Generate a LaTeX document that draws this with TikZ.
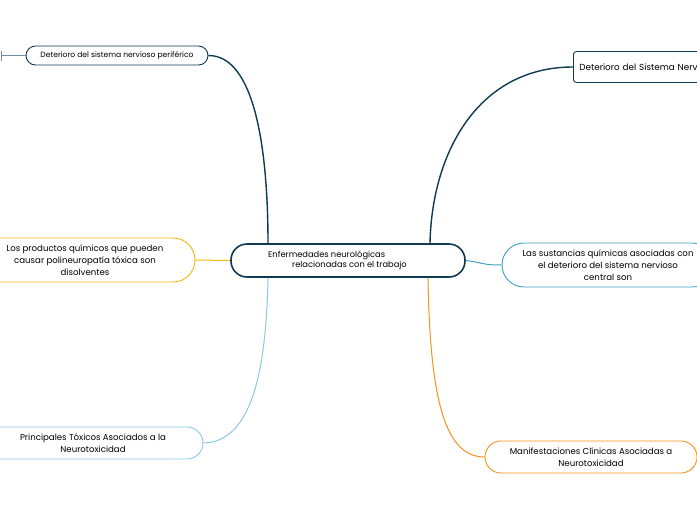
\documentclass[tikz,border=0pt]{standalone}
\usepackage{fontspec}
\setmainfont{Poppins}
\definecolor{navy}{HTML}{0E3A52}
\definecolor{gold}{HTML}{F7B90C}
\definecolor{teal}{HTML}{3FA3C2}
\definecolor{lblue}{HTML}{8CC9E4}
\definecolor{orng}{HTML}{F7931E}
\definecolor{tickc}{HTML}{6F8FA3}
\begin{document}
\begin{tikzpicture}[x=1pt,y=-1pt,
  box/.style={draw, rounded corners=#1, inner sep=0pt, font=\fontsize{8.6}{12}\selectfont, align=center},
  box/.default=11pt,
  link/.style={line width=1pt}]
\clip (0,0) rectangle (697,520);
\useasboundingbox (0,0) rectangle (697,520);
\fill[white] (0,0) rectangle (697,520);
% central
\node[box=16pt, draw=navy, line width=1.6pt, minimum width=234pt, minimum height=33pt, font=\fontsize{8.3}{10.5}\selectfont, align=left] (c) at (348,260.5) {Enfermedades neurológicas\rule{0pt}{0pt}\\\hspace*{24pt}relacionadas con el trabajo\rule{21pt}{0pt}};
% top-left
\node[box=9.5pt, draw=navy, line width=0.9pt, minimum width=182pt, minimum height=19pt, font=\fontsize{7.6}{9}\selectfont] (tl) at (117,55.5) {Deterioro del sistema nervioso periférico};
% top-right
\node[box=3pt, draw=navy, line width=0.9pt, minimum height=31pt, text width=220pt, inner xsep=6pt, align=left, anchor=west, font=\fontsize{8.8}{10}\selectfont] (tr) at (573,67) {Deterioro del Sistema Nervioso Central};
% left yellow
\node[box=22pt, draw=gold, line width=0.9pt, minimum width=220pt, minimum height=44pt] (ly) at (85,260) {Los productos químicos que pueden\\causar polineuropatía tóxica son\\disolventes};
% right teal
\node[box=22pt, draw=teal, line width=0.9pt, minimum width=212pt, minimum height=44pt] (rt) at (608,265) {Las sustancias químicas asociadas con\\el deterioro del sistema nervioso\\central son};
% bottom-left
\node[box=16pt, draw=lblue, line width=0.9pt, minimum width=220pt, minimum height=32pt] (bl) at (93,443) {Principales Tóxicos Asociados a la\\Neurotoxicidad};
% bottom-right
\node[box=16pt, draw=orng, line width=0.9pt, minimum width=212pt, minimum height=32pt] (br) at (591,457) {Manifestaciones Clínicas Asociadas a\\Neurotoxicidad};
% connectors
\coordinate (tle) at (1,55.5);
\draw[tickc, line width=0.9pt] (tl.west) -- (tle);
\draw[tickc, line width=0.9pt] ([yshift=-5pt]tle) -- ([yshift=5pt]tle);
\draw[navy, line width=1.4pt] (tl.east) .. controls (255,55.5) and (268,150) .. ([xshift=-80pt]c.north);
\draw[navy, line width=1.4pt] (tr.west) .. controls (480,67) and (432,150) .. ([xshift=82pt]c.north);
\draw[gold, link] (c.west) -- (ly.east);
\draw[teal, link] (c.east) .. controls (485,263) and (482,265) .. (rt.west);
\draw[lblue, link] ([xshift=-80pt]c.south) .. controls (266,390) and (245,442) .. (bl.east);
\draw[orng, link] ([xshift=80pt]c.south) .. controls (430,400) and (445,457) .. (br.west);
\end{tikzpicture}
\end{document}
